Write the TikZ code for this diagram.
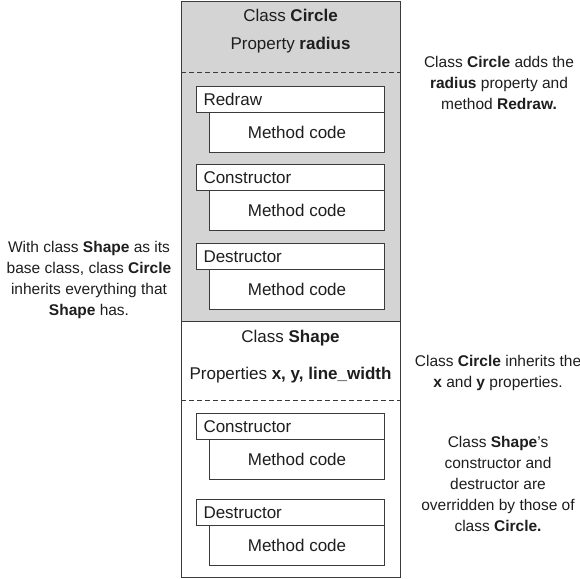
\documentclass[tikz,border=0pt]{standalone}
\usepackage{fontspec}
\setmainfont{Liberation Sans}
\definecolor{lineclr}{HTML}{3A3A3A}
\definecolor{shade}{HTML}{D4D4D4}
\definecolor{txtclr}{HTML}{1E1E1E}
\tikzset{
  region/.style={draw=lineclr, line width=1.1pt, inner sep=0pt, anchor=north west},
  labelbox/.style={draw=lineclr, fill=white, line width=1pt, anchor=north west, inner xsep=7pt, inner ysep=0pt,
    text width=174pt, align=left, minimum height=26pt, font=\fontsize{17}{20}\selectfont, text=txtclr},
  codebox/.style={draw=lineclr, fill=white, line width=1pt, anchor=north west, inner sep=0pt,
    minimum width=175pt, minimum height=40pt, font=\fontsize{17}{20}\selectfont, text=txtclr},
  boxtext/.style={font=\fontsize{17}{20}\selectfont, text=txtclr, inner sep=0pt},
  note/.style={font=\fontsize{15.5}{21}\selectfont, text=txtclr, align=center, inner sep=0pt},
  divider/.style={draw=lineclr, line width=0.9pt, dash pattern=on 5pt off 3pt}
}
\begin{document}
\begin{tikzpicture}[x=1pt,y=-1pt]
\useasboundingbox[fill=white] (0,0) rectangle (580,578);
% regions
\node[region, fill=shade, minimum width=219pt, minimum height=320pt] (circ) at (181,1) {};
\node[region, fill=white, minimum width=219pt, minimum height=256pt] (shp) at (181,321) {};
% titles
\node[boxtext] (ctitle) at (290.5,15) {Class \textbf{Circle}};
\node[boxtext] (cprop) at (290.5,45) {Property \textbf{radius}};
\node[boxtext] (stitle) at (290.5,338) {Class \textbf{Shape}};
\node[boxtext] (sprop) at (290.5,375) {Properties \textbf{x, y, line\_width}};
% dividers
\coordinate (d1a) at (181,72); \coordinate (d1b) at (400,72);
\coordinate (d2a) at (181,400); \coordinate (d2b) at (400,400);
\draw[divider] (d1a) -- (d1b);
\draw[divider] (d2a) -- (d2b);
% Circle methods
\node[labelbox] (credraw) at (196,86) {Redraw};
\node[codebox] (credrawc) at (209,112) {Method code};
\node[labelbox] (ccons) at (196,164) {Constructor};
\node[codebox] (cconsc) at (209,190) {Method code};
\node[labelbox] (cdest) at (196,243) {Destructor};
\node[codebox] (cdestc) at (209,269) {Method code};
% Shape methods
\node[labelbox] (scons) at (196,413) {Constructor};
\node[codebox] (sconsc) at (209,439) {Method code};
\node[labelbox] (sdest) at (196,499) {Destructor};
\node[codebox] (sdestc) at (209,525) {Method code};
% notes
\node[note] (n1) at (499,83) {Class \textbf{Circle} adds the\\\textbf{radius} property and\\method \textbf{Redraw.}};
\node[note] (n2) at (89,280) {With class \textbf{Shape} as its\\base class, class \textbf{Circle}\\inherits everything that\\\textbf{Shape} has.};
\node[note] (n3) at (498,373) {Class \textbf{Circle} inherits the\\\textbf{x} and \textbf{y} properties.};
\node[note] (n4) at (498,484) {Class \textbf{Shape}'s\\constructor and\\destructor are\\overridden by those of\\class \textbf{Circle.}};
\end{tikzpicture}
\end{document}
